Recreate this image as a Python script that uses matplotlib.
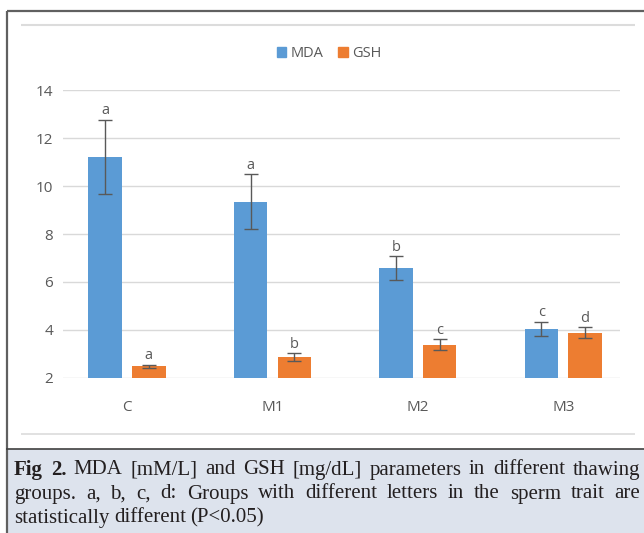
import matplotlib.pyplot as plt
import numpy as np
from matplotlib.lines import Line2D
from matplotlib.patches import Rectangle, Patch

groups = ['C', 'M1', 'M2', 'M3']
mda = [11.22, 9.35, 6.57, 4.03]
mda_err = [1.55, 1.15, 0.5, 0.3]
gsh = [2.47, 2.86, 3.37, 3.88]
gsh_err = [0.08, 0.16, 0.23, 0.23]
mda_letters = ['a', 'a', 'b', 'c']
gsh_letters = ['a', 'b', 'c', 'd']

caption_lines = [
    [('Fig 2.', 'bold'), ('MDA [mM/L] and GSH [mg/dL] parameters in different thawing', 'normal')],
    [('groups. a, b, c, d: Groups with different letters in the sperm trait are', 'normal')],
    [('statistically different (P<0.05)', 'normal')],
]

W, H = 644, 533
blue = '#5b9bd5'
orange = '#ed7d31'
grey_txt = '#595959'

fig = plt.figure(figsize=(W / 100, H / 100), dpi=100)
fig.patch.set_facecolor('white')


def fx(px):
    return px / W


def fy(py):
    return 1 - py / H


# frame and caption box
fig.add_artist(Rectangle((fx(6), fy(533)), fx(644) - fx(6), fy(449) - fy(533),
                         transform=fig.transFigure, facecolor='#dde3ed', edgecolor='none', zorder=0))
for (x0, y0, x1, y1, c, lw) in [
    (6.5, 11, 644, 11, '#606060', 1.6),
    (6.5, 11, 6.5, 533, '#606060', 1.6),
    (6, 449, 644, 449, '#404040', 1.2),
    (21, 25, 635, 25, '#dcdcdc', 1.5),
    (21, 434, 635, 434, '#dcdcdc', 1.2),
]:
    fig.add_artist(Line2D([fx(x0), fx(x1)], [fy(y0), fy(y1)], transform=fig.transFigure,
                          color=c, lw=lw, solid_capstyle='butt'))

ax = fig.add_axes([fx(63), fy(377.7), fx(620) - fx(63), fy(90.4) - fy(377.7)])
ax.set_facecolor('none')

x = np.arange(len(groups))
off, bw = 0.15, 0.23
ax.bar(x - off, mda, bw, color=blue, zorder=2)
ax.bar(x + off, gsh, bw, color=orange, zorder=2)
ax.errorbar(x - off, mda, yerr=mda_err, fmt='none', ecolor=grey_txt, elinewidth=1,
            capsize=5, capthick=1, zorder=3)
ax.errorbar(x + off, gsh, yerr=gsh_err, fmt='none', ecolor=grey_txt, elinewidth=1,
            capsize=5, capthick=1, zorder=3)

for xi, v, e, l in zip(x - off, mda, mda_err, mda_letters):
    ax.annotate(l, (xi, v + e), xytext=(0, 4), textcoords='offset points', ha='center',
                va='baseline', fontsize=10.5, color=grey_txt, family='Open Sans')
for xi, v, e, l in zip(x + off, gsh, gsh_err, gsh_letters):
    ax.annotate(l, (xi, v + e), xytext=(0, 4), textcoords='offset points', ha='center',
                va='baseline', fontsize=10.5, color=grey_txt, family='Open Sans')

ax.set_xlim(-0.44, 3.39)
ax.set_ylim(2, 14)
ax.set_yticks([2, 4, 6, 8, 10, 12, 14])
ax.set_xticks(x)
ax.set_xticklabels(groups)
ax.tick_params(length=0, labelsize=11, labelcolor=grey_txt)
ax.tick_params(axis='x', pad=16)
ax.tick_params(axis='y', pad=7)
for lab in ax.get_xticklabels() + ax.get_yticklabels():
    lab.set_family('Open Sans')
for s in ax.spines.values():
    s.set_visible(False)
ax.yaxis.grid(True, color='#d9d9d9', lw=1)
ax.set_axisbelow(True)

handles = [Patch(color=blue, label='MDA'), Patch(color=orange, label='GSH')]
fig.legend(handles=handles, loc='center', bbox_to_anchor=(fx(329), fy(53.3)), ncol=2,
           frameon=False, handlelength=0.65, handleheight=0.65, handletextpad=0.3,
           columnspacing=1.0, prop={'family': 'Open Sans', 'size': 10.5},
           labelcolor=grey_txt)

# caption, justified word by word
renderer = fig.canvas.get_renderer()
left, right = 14, 640
ys = [470, 494, 518]
for i, (segs, yc) in enumerate(zip(caption_lines, ys)):
    words = []
    for txt, wt in segs:
        for w in txt.split(' '):
            words.append((w, wt))
    texts = []
    widths = []
    for w, wt in words:
        t = fig.text(0, fy(yc), w, fontsize=15, family='Liberation Serif', weight=wt,
                     color='#231f20', va='center', ha='left')
        widths.append(t.get_window_extent(renderer).width)
        texts.append(t)
    space = 4.5
    if i < len(caption_lines) - 1:
        space = (right - left - sum(widths)) / (len(words) - 1)
    xp = left
    for t, wdt in zip(texts, widths):
        t.set_x(fx(xp))
        xp += wdt + space

fig.savefig('out.png', dpi=100)
